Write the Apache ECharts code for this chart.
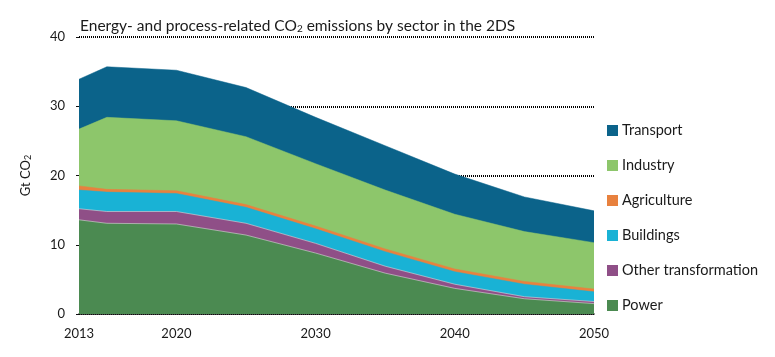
<!DOCTYPE html>
<html>
<head>
<meta charset="utf-8">
<script src="https://cdn.jsdelivr.net/npm/echarts@6/dist/echarts.min.js"></script>
<style>html,body{margin:0;padding:0;background:#fff}#c{width:775px;height:357px}</style>
</head>
<body>
<div id="c"></div>
<script>
const years = [2013, 2015, 2020, 2025, 2030, 2035, 2040, 2045, 2050];
const xTickLabels = [2013, 2020, 2030, 2040, 2050];
const power = [13.6, 13.1, 13.0, 11.4, 8.8, 5.9, 3.7, 2.2, 1.5];
const otherTransformation = [1.6, 1.7, 1.8, 1.7, 1.4, 1.0, 0.6, 0.3, 0.3];
const buildings = [2.7, 2.8, 2.6, 2.3, 2.1, 2.1, 1.8, 1.8, 1.4];
const agriculture = [0.6, 0.4, 0.4, 0.4, 0.4, 0.4, 0.4, 0.4, 0.4];
const industry = [8.2, 10.4, 10.1, 9.8, 9.0, 8.5, 7.9, 7.2, 6.7];
const transport = [7.2, 7.3, 7.3, 7.1, 6.7, 6.4, 5.8, 5.0, 4.6];

const FONT = 'Lato';
// bottom-to-top stacking order
const layers = [
  { name: 'Power', values: power, color: '#4b8a51', edge: true },
  { name: 'Other transformation', values: otherTransformation, color: '#8f4f87', edge: true },
  { name: 'Buildings', values: buildings, color: '#19b2d5' },
  { name: 'Agriculture', values: agriculture, color: '#e8813e' },
  { name: 'Industry', values: industry, color: '#8dc66b' },
  { name: 'Transport', values: transport, color: '#0b638a' }
];
// cumulative totals (stack), drawn largest first so lower layers sit on top
let running = years.map(() => 0);
const series = layers.map(l => {
  running = running.map((r, i) => r + l.values[i]);
  const cum = running.slice();
  return {
    name: l.name, type: 'line', symbol: 'none',
    data: years.map((y, i) => [y, +cum[i].toFixed(3)]),
    itemStyle: { color: l.color },
    lineStyle: l.edge ? { width: 0.6, color: '#d8d8d8' } : { width: 0.5, color: l.color },
    areaStyle: { color: l.color, opacity: 1 },
    emphasis: { disabled: true }
  };
}).reverse();

const chart = echarts.init(document.getElementById('c'));
chart.setOption({
  animation: false,
  title: {
    text: '{a|Energy- and process-related CO}{s|2}{a| emissions by sector in the 2DS}',
    left: 75, top: 13,
    textStyle: { fontWeight: 'normal', rich: {
      a: { fontFamily: FONT, fontSize: 15.5, fontWeight: 'normal', color: '#1a1a1a' },
      s: { fontFamily: FONT, fontSize: 10, fontWeight: 'normal', color: '#1a1a1a', verticalAlign: 'bottom', padding: [6, 0, 0, 0] }
    } }
  },
  grid: { left: 79, right: 181, top: 37, bottom: 43 },
  legend: {
    orient: 'vertical', left: 602, top: 118, itemWidth: 11, itemHeight: 11, itemGap: 20,
    icon: 'rect',
    data: ['Transport', 'Industry', 'Agriculture', 'Buildings', 'Other transformation', 'Power'],
    textStyle: { fontFamily: FONT, fontSize: 14.5, color: '#1a1a1a', padding: [0, 0, 0, -1] }
  },
  xAxis: {
    type: 'value', min: 2013, max: 2050,
    axisLine: { lineStyle: { color: '#111', width: 1.5 } },
    axisTick: { show: false },
    splitLine: { show: false },
    axisLabel: { customValues: xTickLabels, fontFamily: FONT, fontSize: 13, color: '#1a1a1a', margin: 13, formatter: v => String(v) }
  },
  yAxis: {
    type: 'value', min: 0, max: 40, interval: 10,
    name: '{a|Gt CO}{s|2}', nameLocation: 'middle', nameGap: 46, nameRotate: 90,
    nameTextStyle: { rich: {
      a: { fontFamily: FONT, fontSize: 13, color: '#1a1a1a' },
      s: { fontFamily: FONT, fontSize: 9, color: '#1a1a1a', verticalAlign: 'bottom', padding: [5, 0, 0, 0] }
    } },
    axisLine: { show: false },
    axisTick: { show: true, length: 3, lineStyle: { color: '#111' } },
    splitLine: { show: true, lineStyle: { color: '#000', width: 2, type: [1, 1] } },
    axisLabel: { fontFamily: FONT, fontSize: 13, color: '#1a1a1a', margin: 14 }
  },
  series: series
});
</script>
</body>
</html>
